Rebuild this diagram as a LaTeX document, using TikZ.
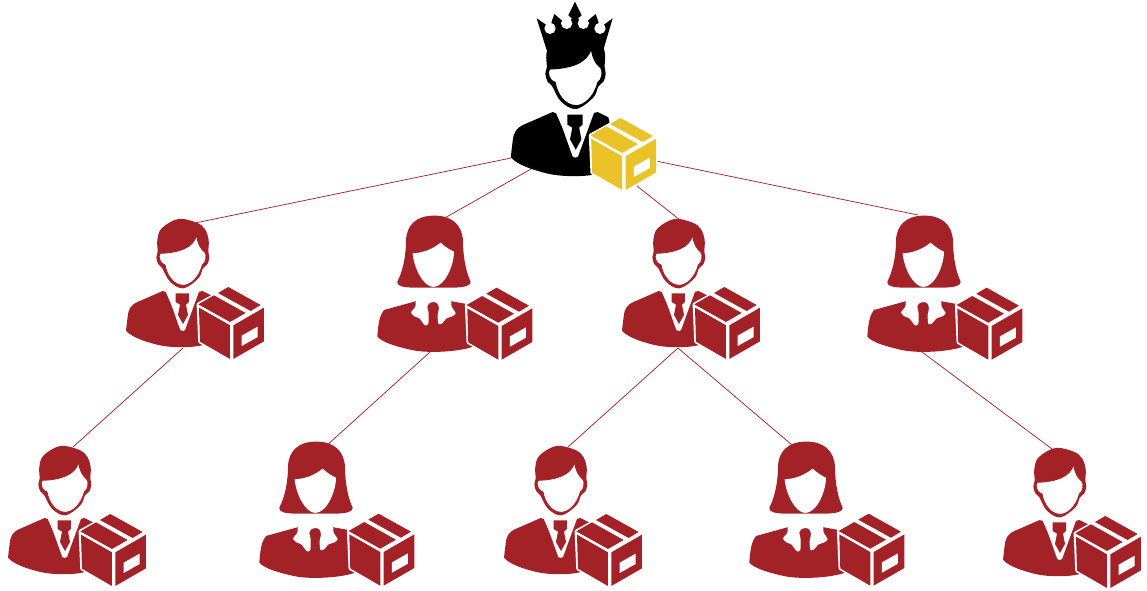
\documentclass[tikz,border=0pt]{standalone}
\definecolor{brick}{HTML}{A32228}
\definecolor{boxgold}{HTML}{E9C327}
\tikzset{
  link/.style={draw=brick,line width=.55pt},
  pics/boxicon/.style={code={
    \fill[white,draw=white,line width=2.6pt,line join=round] (250,283)--(345,230)--(447,290)--(447,395)--(350,447)--(255,395)--cycle;
    \fill[#1] (250,283)--(297,256)--(392,309)--(345,336)--cycle;
    \fill[#1] (309,249)--(340,231)--(437,285)--(407,303)--cycle;
    \fill[#1] (252,293)--(345,346)--(345,447)--(255,395)--cycle;
    \fill[#1] (355,346)--(447,293)--(447,394)--(355,447)--cycle;
    \fill[white] (380,377)--(428,350)--(428,381)--(380,408)--cycle;
  }},
  pics/manbody/.style={code={
    \fill[#1] plot[smooth cycle,tension=.6] coordinates {(127,90)(140,55)(190,27)(245,38)(270,58)(281,90)(280,125)(283,142)(277,163)(264,175)(250,205)(205,235)(165,215)(142,175)(130,163)(124,142)(128,125)};
    \path[fill=white,draw=#1,line width=.7pt] (135,130) .. controls (190,128) and (235,115) .. (245,75) .. controls (247,100) and (258,118) .. (270,127) .. controls (276,135) and (274,158) .. (262,165) .. controls (252,205) and (225,226) .. (205,226) .. controls (175,226) and (155,195) .. (150,165) .. controls (135,162) and (128,140) .. (135,130) -- cycle;
    \fill[#1,line join=round] (143,243) -- (70,275) .. controls (45,285) and (40,300) .. (38,320) -- (33,362) .. controls (50,382) and (90,395) .. (130,405) .. controls (170,414) and (230,414) .. (265,405) -- (300,300) -- (290,257) -- (262,243) -- (250,246) -- (206,352) -- (197,346) -- (152,246) -- cycle;
    \fill[white] (155,245) -- (252,245) -- (210,360) .. controls (206,364) and (200,364) .. (196,360) -- cycle;
    \fill[#1] (182,250) -- (222,250) -- (222,276) -- (213,284) -- (219,315) -- (204,342) -- (189,315) -- (195,284) -- (182,276) -- cycle;
  }},
  pics/womanbody/.style={code={
    \fill[#1] (190,32) .. controls (245,30) and (278,60) .. (279,110) .. controls (280,165) and (290,205) .. (302,230) .. controls (303,242) and (285,247) .. (250,248) -- (130,248) .. controls (95,247) and (80,242) .. (82,230) .. controls (95,205) and (107,165) .. (108,110) .. controls (108,60) and (140,32) .. (190,32) -- cycle;
    \fill[white] (128,145) .. controls (165,143) and (190,130) .. (212,113) .. controls (225,125) and (240,135) .. (252,140) .. controls (252,180) and (225,245) .. (190,246) .. controls (160,245) and (132,190) .. (128,145) -- cycle;
    \fill[#1] (140,288) -- (42,315) .. controls (30,330) and (25,350) .. (22,395) .. controls (40,415) and (90,427) .. (125,435) .. controls (170,445) and (260,442) .. (310,425) -- (320,320) -- (295,298) -- (240,288) -- cycle;
    \fill[white] plot[smooth cycle,tension=.45] coordinates {(141,284)(136,305)(123,323)(135,335)(148,340)(165,361)(175,356)(176,325)(172,305)(178,295)(190,291)(202,295)(207,310)(203,330)(205,356)(215,356)(230,340)(245,335)(257,325)(245,305)(240,284)(190,282)};
  }},
  pics/crownicon/.style={code={
    \fill[#1] (140,55) -- (168,74) -- (180,85) -- (186,62) -- (193,42) -- (214,60) -- (230,70) -- (246,55) -- (235,46) -- (255,5) -- (275,46) -- (264,55) -- (280,70) -- (296,60) -- (317,42) -- (324,62) -- (330,85) -- (342,74) -- (368,55) -- (340,150) -- (170,150) -- cycle;
    \foreach \cx/\cy in {180/85,230/70,280/70,330/85} \fill[white] (\cx,\cy) circle (17);
  }}
}
\begin{document}
\begin{tikzpicture}[x=.75pt,y=-.75pt]
\useasboundingbox (0,0) rectangle (1147,590);
% connector ends
\coordinate (ra) at (511,158);
\coordinate (rb) at (531,169);
\coordinate (rc) at (637,186);
\coordinate (rd) at (656,161);
\coordinate (at) at (195,223);
\coordinate (bt) at (443,219);
\coordinate (ct) at (680,220);
\coordinate (dt) at (918,215);
\coordinate (ab) at (183,348);
\coordinate (bb) at (430,352);
\coordinate (cb) at (678,348);
\coordinate (db) at (922,352);
\coordinate (et) at (73,447);
\coordinate (ft) at (325,447);
\coordinate (gt) at (568,447);
\coordinate (ht) at (792,445);
\coordinate (it) at (1052,449);
\draw[link] (ra)--(at);
\draw[link] (rb)--(bt);
\draw[link] (rc)--(ct);
\draw[link] (rd)--(dt);
\draw[link] (ab)--(et);
\draw[link] (bb)--(ft);
\draw[link] (cb)--(gt);
\draw[link] (cb)--(ht);
\draw[link] (db)--(it);
% root
\pic (rootcrown) at (490,0) [scale=.3333] {crownicon=black};
\pic (rootman) at (498.2,19.7) [scale=.38] {manbody=black};
\pic (rootbox) at (507.2,41) [scale=.3333] {boxicon=boxgold};
% second row
\pic (a) at (115,210) [scale=.3333] {manbody=brick};
\pic (abox) at (115,210) [scale=.3333] {boxicon=brick};
\pic (b) at (370,205) [scale=.3333] {womanbody=brick};
\pic (bbox) at (383.3,210.7) [scale=.3333] {boxicon=brick};
\pic (c) at (611,210) [scale=.3333] {manbody=brick};
\pic (cbox) at (611,210) [scale=.3333] {boxicon=brick};
\pic (d) at (860,205) [scale=.3333] {womanbody=brick};
\pic (dbox) at (873.3,210.7) [scale=.3333] {boxicon=brick};
% third row
\pic (e) at (-3,437) [scale=.3333] {manbody=brick};
\pic (ebox) at (-3,437) [scale=.3333] {boxicon=brick};
\pic (f) at (252,431) [scale=.3333] {womanbody=brick};
\pic (fbox) at (265.3,436.7) [scale=.3333] {boxicon=brick};
\pic (g) at (493,437) [scale=.3333] {manbody=brick};
\pic (gbox) at (493,437) [scale=.3333] {boxicon=brick};
\pic (h) at (742,431) [scale=.3333] {womanbody=brick};
\pic (hbox) at (755.3,436.7) [scale=.3333] {boxicon=brick};
\pic (i) at (992,439) [scale=.3333] {manbody=brick};
\pic (ibox) at (992,439) [scale=.3333] {boxicon=brick};
\end{tikzpicture}
\end{document}
